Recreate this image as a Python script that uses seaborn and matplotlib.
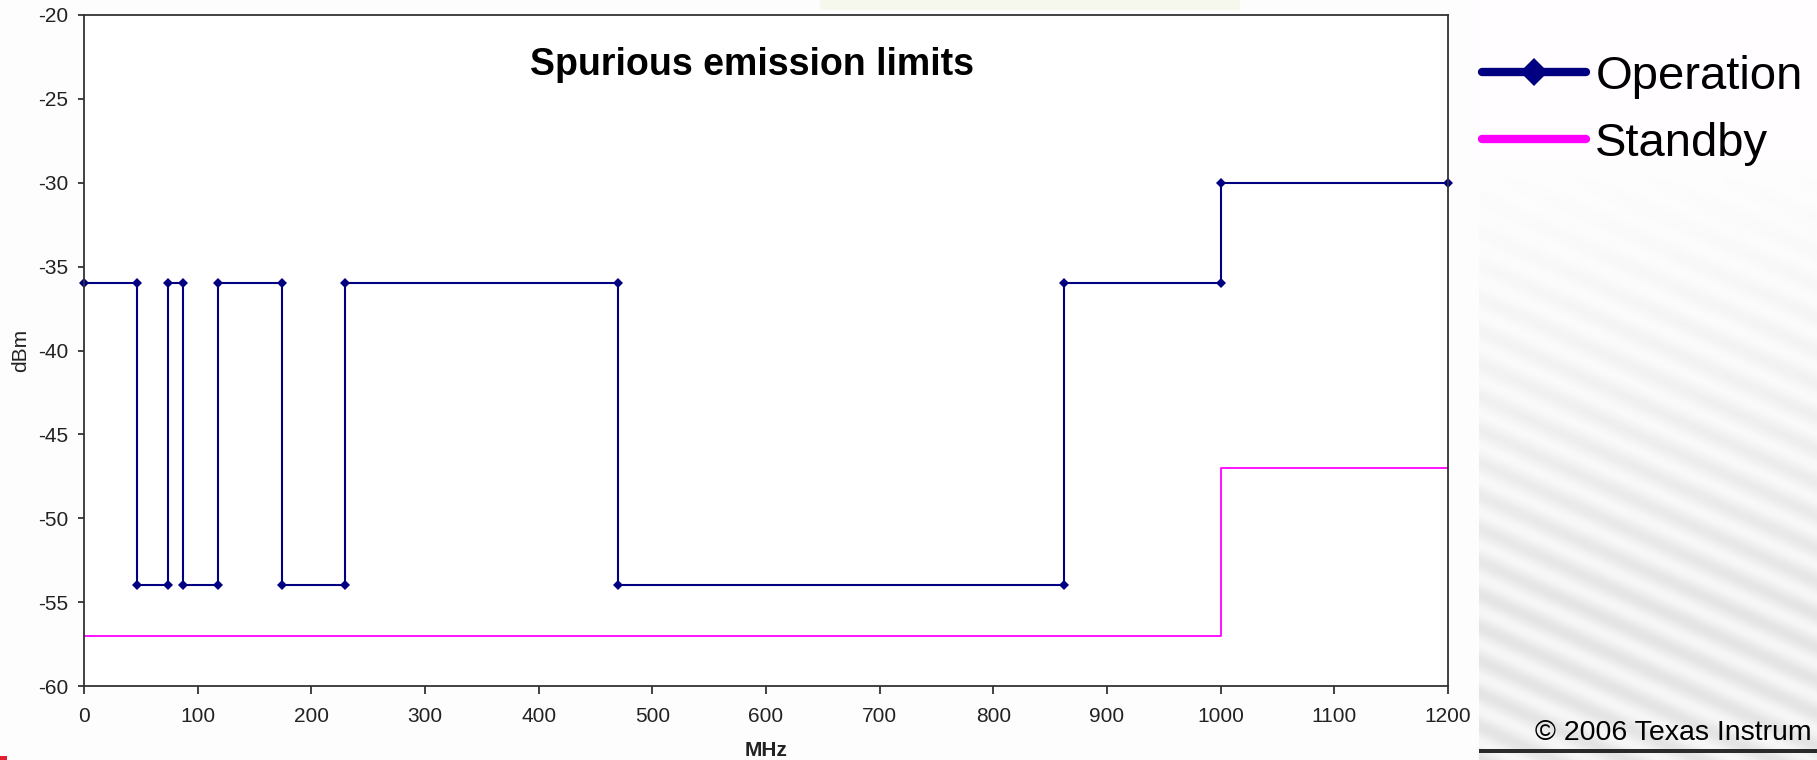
import numpy as np
import pandas as pd
import matplotlib
matplotlib.use("Agg")
import matplotlib.pyplot as plt
import seaborn as sns
from matplotlib.patches import Rectangle

# ---------------- data ----------------
freq_operation = [0, 47, 47, 74, 74, 87.5, 87.5, 118, 118, 174, 174, 230, 230,
                  470, 470, 862, 862, 1000, 1000, 1200]
dbm_operation = [-36, -36, -54, -54, -36, -36, -54, -54, -36, -36, -54, -54, -36,
                 -36, -54, -54, -36, -36, -30, -30]
freq_standby = [0, 1000, 1000, 1200]
dbm_standby = [-57, -57, -47, -47]
series_names = ["Operation", "Standby"]
x_ticks = list(range(0, 1201, 100))
y_ticks = list(range(-60, -19, 5))
title_text = "Spurious emission limits"
x_label = "MHz"
y_label = "dBm"
copyright_text = "\u00a9 2006 Texas Instrum"

# ---------------- style ----------------
sns.set_style("white")
plt.rcParams["font.family"] = ["Liberation Sans", "DejaVu Sans"]
plt.rcParams["axes.unicode_minus"] = False

W_PX, H_PX, DPI = 1817, 760, 100
fig = plt.figure(figsize=(W_PX / DPI, H_PX / DPI), dpi=DPI, facecolor="#fdfdfd")

def fx(px):
    return px / W_PX

def fy(py):
    return 1 - py / H_PX

# slide background (striped) on the right
x0 = 1479
bg = fig.add_axes([fx(x0), 0, 1 - fx(x0), 1], zorder=-5)
Hh, Ww = H_PX, W_PX - x0
yy, xx = np.mgrid[0:Hh, 0:Ww]
u = (-0.45 * xx + yy) / 1.1
stripe = 0.5 + 0.5 * np.cos(2 * np.pi * u / 30.0)
fade = np.clip((yy - 160) / 450.0, 0, 1)
val = 1 - fade * (0.03 + 0.07 * stripe)
rgb = np.stack([val, val * 0.992 + 0.004, val], axis=-1)
bg.imshow(np.clip(rgb, 0, 1), aspect="auto", extent=[0, 1, 0, 1], origin="upper")
bg.set_axis_off()

# decorative bits of the slide
fig.add_artist(Rectangle((fx(x0), fy(753)), 1 - fx(x0), 4 / H_PX,
                         transform=fig.transFigure, color="#2a2a2a", lw=0, zorder=-4))
fig.add_artist(Rectangle((0, 0), 7 / W_PX, 4 / H_PX,
                         transform=fig.transFigure, color="#e0202e", lw=0, zorder=-4))
fig.add_artist(Rectangle((fx(820), fy(10)), fx(420), 10 / H_PX,
                         transform=fig.transFigure, color="#f6f8ee", lw=0, zorder=-4))

# main axes
ax_l, ax_r, ax_t, ax_b = 84, 1448, 15, 686
ax = fig.add_axes([fx(ax_l), fy(ax_b), fx(ax_r - ax_l), (ax_b - ax_t) / H_PX], zorder=2)
ax.set_facecolor("white")

navy = "#000080"
magenta = "#ff00ff"

sns.lineplot(x=freq_operation, y=dbm_operation, sort=False, estimator=None,
             color=navy, linewidth=1.5, marker="D", markersize=5.5,
             markeredgewidth=0, ax=ax, legend=False)
sns.lineplot(x=freq_standby, y=dbm_standby, sort=False, estimator=None,
             color=magenta, linewidth=1.3, ax=ax, legend=False)
for ln in ax.lines:
    ln.set_clip_on(False)

ax.set_xlim(0, 1200)
ax.set_ylim(-60, -20)
ax.set_xticks(x_ticks)
ax.set_yticks(y_ticks)
ax.tick_params(axis="both", direction="out", width=1.2, color="#222222",
               labelsize=15, labelcolor="#222222", bottom=True, left=True)
ax.tick_params(axis="x", length=6, pad=9)
ax.tick_params(axis="y", length=4.5, pad=7)
for sp in ax.spines.values():
    sp.set_color("#333333")
    sp.set_linewidth(1.3)
    sp.set_visible(True)

ax.set_xlabel(x_label, fontsize=15, fontweight="bold", color="#222222", labelpad=11)
ax.set_ylabel(y_label, fontsize=15, color="#222222")
ax.yaxis.set_label_coords(-(84 - 30) / (ax_r - ax_l), 0.5)

# chart title inside plot area
fig.text(fx(752), fy(75), title_text, fontsize=27, fontweight="bold",
         ha="center", va="baseline", color="black", zorder=5)

# legend outside to the right
handles = [ax.lines[0], ax.lines[1]]
leg = fig.legend(handles, series_names, loc="upper left",
                 bbox_to_anchor=(fx(1482), fy(55)), frameon=False,
                 fontsize=34, handlelength=2.2, handletextpad=0.2,
                 labelspacing=0.48, borderpad=0, borderaxespad=0)
for h in leg.legend_handles:
    h.set_linewidth(6)
    h.set_markersize(14)
    h.set_solid_capstyle("round")
for t in leg.get_texts():
    t.set_color("black")

# copyright line of the slide (cut by the slide edge in the original)
fig.text(fx(1535), fy(740), copyright_text, fontsize=20.5, ha="left",
         va="baseline", color="black", zorder=5)

fig.savefig("out.png", dpi=DPI, facecolor=fig.get_facecolor())
